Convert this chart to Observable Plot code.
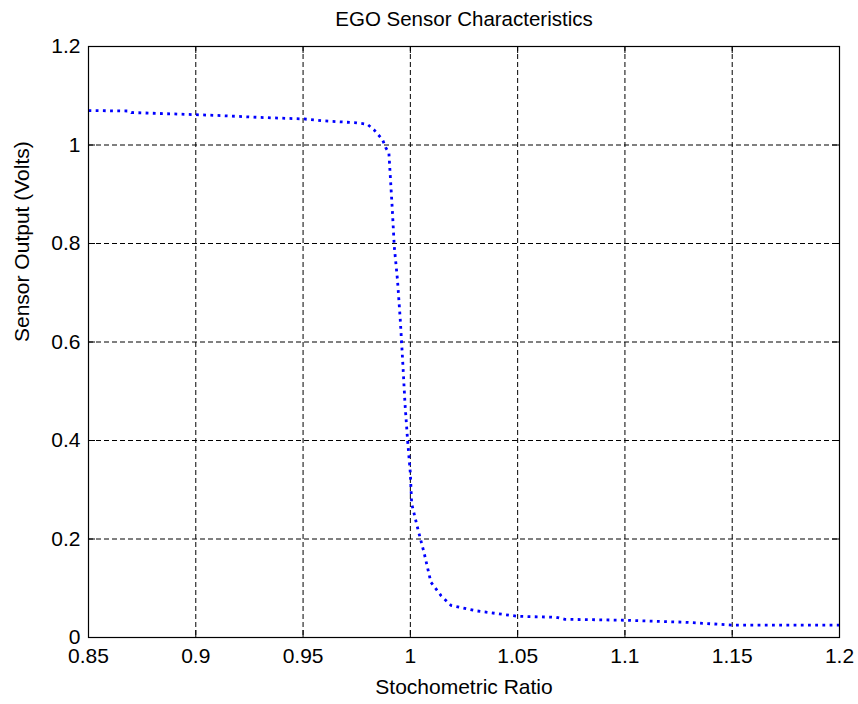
<!DOCTYPE html>
<html>
<head>
<meta charset="utf-8">
<script src="https://cdn.jsdelivr.net/npm/d3@7"></script>
<script src="https://cdn.jsdelivr.net/npm/@observablehq/plot@0.6"></script>
<style>
  html, body { margin: 0; padding: 0; background: #fff; }
  #chart svg { display: block; }
</style>
</head>
<body>
<div id="chart"></div>
<script>
// EGO (exhaust gas oxygen) sensor output vs. stoichiometric ratio
const ratio = [
  0.850, 0.869, 0.870, 0.890, 0.910, 0.930, 0.950, 0.960, 0.975, 0.980,
  0.983, 0.987, 0.9886, 0.990, 0.9916, 0.9925, 0.994, 0.9953, 0.9964, 0.9975,
  0.9987, 1.000, 1.0006, 1.0034, 1.0065, 1.0096, 1.0143, 1.019, 1.031, 1.050,
  1.068, 1.072, 1.100, 1.128, 1.151, 1.200
];
const voltage = [
  1.070, 1.069, 1.066, 1.063, 1.060, 1.056, 1.053, 1.049, 1.045, 1.042,
  1.031, 1.011, 0.994, 0.984, 0.868, 0.794, 0.726, 0.645, 0.563, 0.475,
  0.401, 0.333, 0.272, 0.222, 0.170, 0.112, 0.085, 0.065, 0.054, 0.043,
  0.041, 0.037, 0.035, 0.031, 0.025, 0.025
];

const xTicks = [0.85, 0.9, 0.95, 1.0, 1.05, 1.1, 1.15, 1.2];
const xTickLabels = ["0.85", "0.9", "0.95", "1", "1.05", "1.1", "1.15", "1.2"];
const yTicks = [0, 0.2, 0.4, 0.6, 0.8, 1.0, 1.2];
const yTickLabels = ["0", "0.2", "0.4", "0.6", "0.8", "1", "1.2"];

const titleText = "EGO Sensor Characteristics";
const xLabel = "Stochometric Ratio";
const yLabel = "Sensor Output (Volts)";

const W = 858, H = 704;
const mL = 88, mR = 19, mT = 46, mB = 67;
const plotW = W - mL - mR, plotH = H - mT - mB;
const tickLen = 7;
const font = "'Liberation Sans', Arial, sans-serif";

const points = ratio.map((r, i) => ({r, v: voltage[i]}));
const xFmt = d => xTickLabels[xTicks.indexOf(d)];
const yFmt = d => yTickLabels[yTicks.indexOf(d)];

const chart = Plot.plot({
  width: W,
  height: H,
  marginLeft: mL,
  marginRight: mR,
  marginTop: mT,
  marginBottom: mB,
  style: {fontFamily: font, fontSize: "21px", color: "#000", background: "#fff"},
  x: {domain: [0.85, 1.2]},
  y: {domain: [0, 1.2]},
  marks: [
    // dashed grid
    Plot.ruleX(xTicks.slice(1, -1), {stroke: "#000", strokeWidth: 1, strokeDasharray: "5,3"}),
    Plot.ruleY(yTicks.slice(1, -1), {stroke: "#000", strokeWidth: 1, strokeDasharray: "5,3"}),
    // response curve
    Plot.line(points, {
      x: "r", y: "v", stroke: "#0000ff", strokeWidth: 2.8,
      strokeDasharray: "2.8,4.4", strokeLinecap: "butt", curve: "linear"
    }),
    // inward tick marks on all four sides
    Plot.ruleX(xTicks, {stroke: "#000", insetTop: plotH - tickLen}),
    Plot.ruleX(xTicks, {stroke: "#000", insetBottom: plotH - tickLen}),
    Plot.ruleY(yTicks, {stroke: "#000", insetRight: plotW - tickLen}),
    Plot.ruleY(yTicks, {stroke: "#000", insetLeft: plotW - tickLen}),
    Plot.frame({stroke: "#000", strokeWidth: 1.2}),
    // tick labels
    Plot.axisX(xTicks, {tickSize: 0, tickPadding: 11, tickFormat: xFmt, fontSize: 21, label: null}),
    Plot.axisY(yTicks, {tickSize: 0, tickPadding: 8, tickFormat: yFmt, fontSize: 21, label: null}),
    // title and axis titles
    Plot.text([titleText], {frameAnchor: "top", lineAnchor: "middle", dy: -27, fontSize: 20.5, fill: "#000"}),
    Plot.text([xLabel], {frameAnchor: "bottom", lineAnchor: "middle", dy: 50, fontSize: 21, fill: "#000"}),
    Plot.text([yLabel], {frameAnchor: "left", lineAnchor: "middle", dx: -66, rotate: -90, fontSize: 21, fill: "#000"})
  ]
});

document.getElementById("chart").appendChild(chart);
</script>
</body>
</html>
